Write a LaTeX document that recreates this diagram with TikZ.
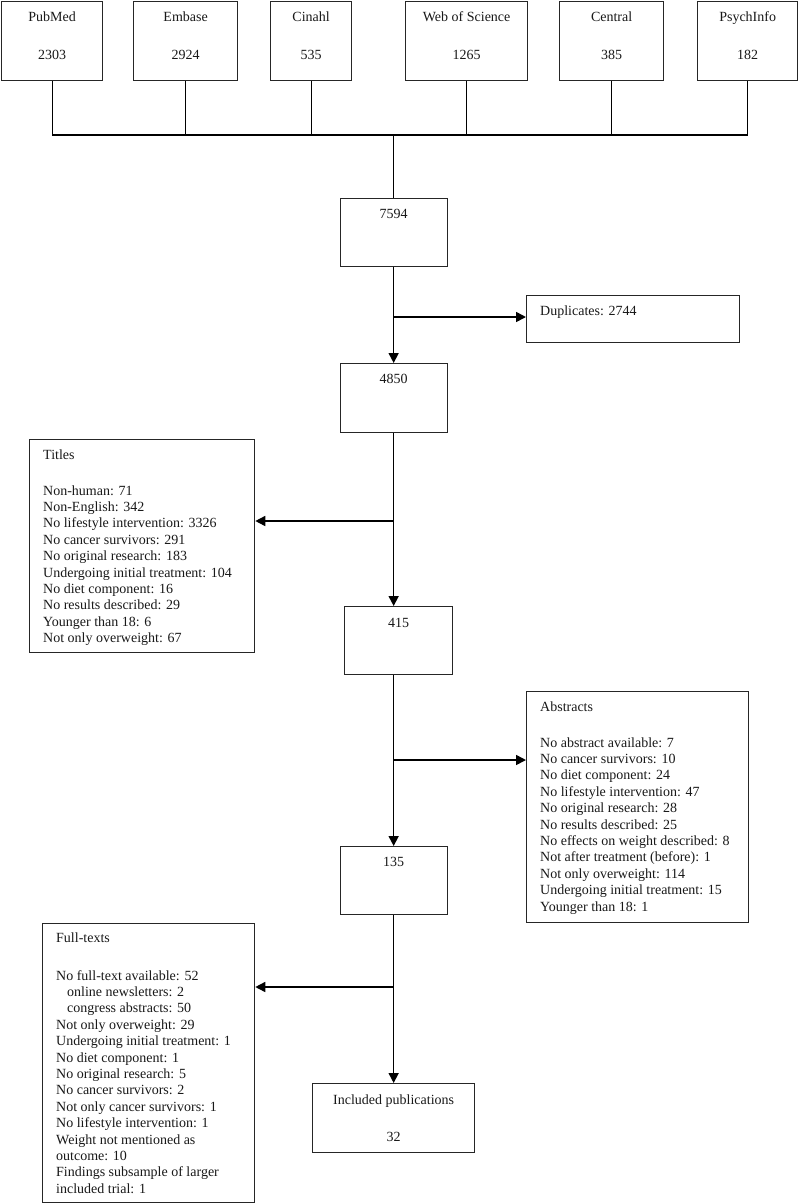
\documentclass[tikz,border=0pt]{standalone}
\usepackage{fontspec}
\setmainfont{Liberation Serif}
\usetikzlibrary{arrows.meta}
\begin{document}
\begin{tikzpicture}[x=1pt,y=-1pt,
  box/.style={draw=black!85, line width=1.3pt, inner sep=0pt, anchor=north west},
  lbl/.style={anchor=base, inner sep=0pt, font=\fontsize{14}{16.4}\selectfont, text=black!90},
  lblw/.style={anchor=base west, inner sep=0pt, font=\fontsize{14}{16.4}\selectfont, text=black!90},
  lst/.style={anchor=north west, inner sep=0pt, align=left, font=\fontsize{14}{16.4}\selectfont, text=black!90},
  conn/.style={line width=1.6pt, black},
  bus/.style={line width=1.2pt, black},
  arr/.style={conn, -{Triangle[length=10pt,width=10pt]}}]
\useasboundingbox (0,0) rectangle (798,1203);
\fill[white] (0,0) rectangle (798,1203);

% source databases
\node[box, minimum width=101pt, minimum height=79pt] (pubmed) at (1,1) {};
\node[box, minimum width=104pt, minimum height=79pt] (embase) at (133,1) {};
\node[box, minimum width=81pt, minimum height=79pt] (cinahl) at (270,1) {};
\node[box, minimum width=122pt, minimum height=79pt] (wos) at (405,1) {};
\node[box, minimum width=104pt, minimum height=79pt] (central) at (559,1) {};
\node[box, minimum width=100pt, minimum height=79pt] (psych) at (697,1) {};
\node[lbl] (pubmedA) at ([yshift=-20.5pt]pubmed.north) {PubMed};
\node[lbl] (pubmedB) at ([yshift=-58pt]pubmed.north) {2303};
\node[lbl] (embaseA) at ([yshift=-20.5pt]embase.north) {Embase};
\node[lbl] (embaseB) at ([yshift=-58pt]embase.north) {2924};
\node[lbl] (cinahlA) at ([yshift=-20.5pt]cinahl.north) {Cinahl};
\node[lbl] (cinahlB) at ([yshift=-58pt]cinahl.north) {535};
\node[lbl] (wosA) at ([yshift=-20.5pt]wos.north) {Web of Science};
\node[lbl] (wosB) at ([yshift=-58pt]wos.north) {1265};
\node[lbl] (centralA) at ([yshift=-20.5pt]central.north) {Central};
\node[lbl] (centralB) at ([yshift=-58pt]central.north) {385};
\node[lbl] (psychA) at ([yshift=-20.5pt]psych.north) {PsychInfo};
\node[lbl] (psychB) at ([yshift=-58pt]psych.north) {182};

% main column
\node[box, minimum width=107pt, minimum height=68pt] (b7594) at (339.5,198) {};
\node[lbl] (t7594) at ([yshift=-20.7pt]b7594.north) {7594};
\node[box, minimum width=213pt, minimum height=47pt] (dup) at (526,295) {};
\node[lblw] (tdup) at ([xshift=14pt,yshift=-20.5pt]dup.north west) {Duplicates: 2744};
\node[box, minimum width=107pt, minimum height=69pt] (b4850) at (339.5,363) {};
\node[lbl] (t4850) at ([yshift=-20.7pt]b4850.north) {4850};
\node[box, minimum width=225pt, minimum height=213pt] (titles) at (29,439) {};
\node[lblw] (ttitlesH) at ([xshift=14pt,yshift=-20.7pt]titles.north west) {Titles};
\node[lst] (ttitlesL) at ([xshift=14pt,yshift=-46.1pt]titles.north west) {Non-human: 71\\
Non-English: 342\\
No lifestyle intervention: 3326\\
No cancer survivors: 291\\
No original research: 183\\
Undergoing initial treatment: 104\\
No diet component: 16\\
No results described: 29\\
Younger than 18: 6\\
Not only overweight: 67};
\node[box, minimum width=108pt, minimum height=68pt] (b415) at (344,606) {};
\node[lbl] (t415) at ([yshift=-21.7pt]b415.north) {415};
\node[box, minimum width=222pt, minimum height=231pt] (abstracts) at (526,691) {};
\node[lblw] (tabsH) at ([xshift=14pt,yshift=-20.7pt]abstracts.north west) {Abstracts};
\node[lst] (tabsL) at ([xshift=14pt,yshift=-46.1pt]abstracts.north west) {No abstract available: 7\\
No cancer survivors: 10\\
No diet component: 24\\
No lifestyle intervention: 47\\
No original research: 28\\
No results described: 25\\
No effects on weight described: 8\\
Not after treatment (before): 1\\
Not only overweight: 114\\
Undergoing initial treatment: 15\\
Younger than 18: 1};
\node[box, minimum width=107pt, minimum height=68pt] (b135) at (339.5,846) {};
\node[lbl] (t135) at ([yshift=-20.7pt]b135.north) {135};
\node[box, minimum width=212pt, minimum height=279pt] (fulltexts) at (42,923) {};
\node[lblw] (tfullH) at ([xshift=14pt,yshift=-19.7pt]fulltexts.north west) {Full-texts};
\node[lst] (tfullL) at ([xshift=14pt,yshift=-47.1pt]fulltexts.north west) {No full-text available: 52\\
\hspace*{11pt}online newsletters: 2\\
\hspace*{11pt}congress abstracts: 50\\
Not only overweight: 29\\
Undergoing initial treatment: 1\\
No diet component: 1\\
No original research: 5\\
No cancer survivors: 2\\
Not only cancer survivors: 1\\
No lifestyle intervention: 1\\
Weight not mentioned as\\
outcome: 10\\
Findings subsample of larger\\
included trial: 1};
\node[box, minimum width=162pt, minimum height=69pt] (included) at (312,1083) {};
\node[lbl] (tincA) at ([yshift=-21.5pt]included.north) {Included publications};
\node[lbl] (tincB) at ([yshift=-58.7pt]included.north) {32};

% bus from databases
\coordinate (busy) at (0,135);
\draw[bus] (pubmed.south) -- (pubmed.south |- busy) -- (psych.south |- busy) -- (psych.south);
\foreach \n in {embase,cinahl,wos,central} \draw[bus] (\n.south) -- (\n.south |- busy);
\draw[bus] (b7594.north |- busy) -- (b7594.north);

% flow arrows
\coordinate (sp1) at (393,317);
\coordinate (sp2) at (393,521);
\coordinate (sp3) at (393,760);
\coordinate (sp4) at (393,987);
\draw[arr] (b7594.south) -- (b4850.north);
\draw[arr] (sp1) -- (sp1 -| dup.west);
\draw[arr] (b4850.south) -- (b4850.south |- b415.north);
\draw[arr] (sp2) -- (sp2 -| titles.east);
\draw[arr] (b415.south -| b135.north) -- (b135.north);
\draw[arr] (sp3) -- (sp3 -| abstracts.west);
\draw[arr] (b135.south) -- (included.north);
\draw[arr] (sp4) -- (sp4 -| fulltexts.east);
\end{tikzpicture}
\end{document}
